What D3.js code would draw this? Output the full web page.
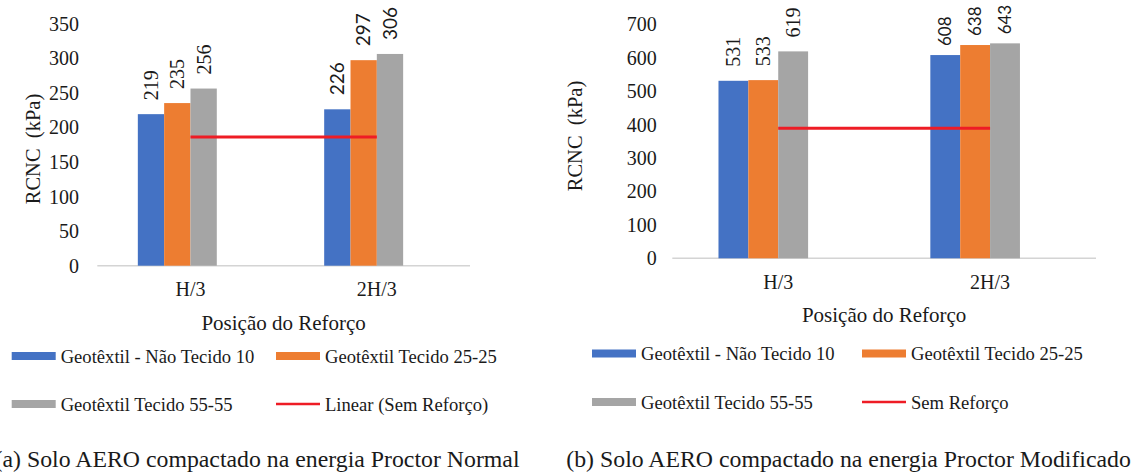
<!DOCTYPE html>
<html>
<head>
<meta charset="utf-8">
<script src="https://cdn.jsdelivr.net/npm/d3@7"></script>
<style>
  html, body { margin: 0; padding: 0; background: #fff; }
  svg { display: block; }
  text { font-family: "Liberation Serif", Tinos, "Times New Roman", "Noto Serif", "DejaVu Serif", serif; fill: #1a1a1a; }
</style>
</head>
<body>
<svg id="chart" width="1138" height="473"></svg>
<script>
// ---------- DATA ----------
const categories = ["H/3", "2H/3"];
const seriesNames = ["Geotêxtil - Não Tecido 10", "Geotêxtil Tecido 25-25", "Geotêxtil Tecido 55-55"];

// (a) Proctor Normal
const normalNaoTecido10 = [219, 226];
const normalTecido2525  = [235, 297];
const normalTecido5555  = [256, 306];
const normalSemReforco  = [186, 186];
const normalTicks = [0, 50, 100, 150, 200, 250, 300, 350];
const normalLineLabel = "Linear (Sem Reforço)";
const normalCaption = "(a) Solo AERO compactado na energia Proctor Normal";

// (b) Proctor Modificado
const modNaoTecido10 = [531, 608];
const modTecido2525  = [533, 638];
const modTecido5555  = [619, 643];
const modSemReforco  = [389, 389];
const modTicks = [0, 100, 200, 300, 400, 500, 600, 700];
const modLineLabel = "Sem Reforço";
const modCaption = "(b) Solo AERO compactado na energia Proctor Modificado";

const yTitle = "RCNC  (kPa)";
const xTitle = "Posição do Reforço";

// ---------- STYLE ----------
const colors = ["#4472C4", "#ED7D31", "#A5A5A5"];
const lineColor = "#EE1C25";
const serif = '"Liberation Serif", Tinos, "Times New Roman", "Noto Serif", "DejaVu Serif", serif';
const sans = 'Lato, "Open Sans", sans-serif';

const svg = d3.select("#chart");

function drawPanel(cfg) {
  const g = svg.append("g");
  const series = cfg.series;
  const maxV = cfg.ticks[cfg.ticks.length - 1];

  const x = d3.scaleBand().domain(categories)
    .range([cfg.x0, cfg.x1]).paddingInner(cfg.pad).paddingOuter(cfg.pad / 2);
  const slots = seriesNames.concat(["__line"]);
  const xs = d3.scaleBand().domain(slots).range([0, x.bandwidth()]);
  const y = d3.scaleLinear().domain([0, maxV]).range([cfg.yBase, cfg.yTop]);

  g.append("line")
    .attr("x1", cfg.x0).attr("x2", cfg.x1)
    .attr("y1", y(0)).attr("y2", y(0))
    .attr("stroke", "#d4d4d4").attr("stroke-width", 1.5);

  g.selectAll(".ytick").data(cfg.ticks).enter().append("text")
    .attr("x", cfg.tickRight).attr("y", d => y(d))
    .attr("text-anchor", "end").attr("dominant-baseline", "central")
    .style("font-size", "20px").text(d => d);

  g.append("text")
    .attr("transform", `translate(${cfg.yTitleX},${cfg.yTitleY}) rotate(-90)`)
    .attr("text-anchor", "middle").attr("dominant-baseline", "central")
    .style("font-size", "20.5px").style("white-space", "pre").text(yTitle);

  series.forEach((vals, si) => {
    g.selectAll(".bar" + si).data(categories).enter().append("rect")
      .attr("x", c => x(c) + xs(seriesNames[si]))
      .attr("width", xs.bandwidth())
      .attr("y", (c, ci) => y(vals[ci]))
      .attr("height", (c, ci) => y(0) - y(vals[ci]))
      .attr("fill", colors[si]);
  });

  series.forEach((vals, si) => {
    g.selectAll(".lab" + si).data(categories).enter().append("text")
      .attr("transform", (c, ci) =>
        `translate(${x(c) + xs(seriesNames[si]) + xs.bandwidth() / 2},${y(vals[ci]) - cfg.labelGap[ci]}) rotate(-90)`)
      .attr("dy", "0.35em")
      .attr("text-anchor", "start")
      .style("font-family", (c, ci) => ci === 0 ? serif : sans)
      .style("font-size", (c, ci) => ci === 0 ? "20px" : cfg.sansSize)
      .text((c, ci) => vals[ci]);
  });

  const line = d3.line()
    .x((d, i) => x(categories[i]) + x.bandwidth() / 2)
    .y(d => y(d));
  g.append("path").datum(cfg.lineVals)
    .attr("d", line).attr("fill", "none")
    .attr("stroke", lineColor).attr("stroke-width", 3);

  g.selectAll(".cat").data(categories).enter().append("text")
    .attr("x", c => x(c) + x.bandwidth() / 2)
    .attr("y", cfg.catY)
    .attr("text-anchor", "middle").attr("dominant-baseline", "central")
    .style("font-size", "20px").text(c => c);

  g.append("text")
    .attr("x", (cfg.x0 + cfg.x1) / 2).attr("y", cfg.xTitleY)
    .attr("text-anchor", "middle").attr("dominant-baseline", "central")
    .style("font-size", "21px").text(xTitle);

  const legendItems = [
    { label: seriesNames[0], color: colors[0], type: "rect", col: 0, row: 0 },
    { label: seriesNames[1], color: colors[1], type: "rect", col: 1, row: 0 },
    { label: seriesNames[2], color: colors[2], type: "rect", col: 0, row: 1 },
    { label: cfg.lineLabel, color: lineColor, type: "line", col: 1, row: 1 }
  ];
  const sw = 44;
  legendItems.forEach(it => {
    const lx = cfg.legCols[it.col];
    const ly = cfg.legRows[it.row];
    if (it.type === "rect") {
      g.append("rect").attr("x", lx).attr("y", ly - 4).attr("width", sw).attr("height", 8)
        .attr("fill", it.color);
    } else {
      g.append("line").attr("x1", lx).attr("x2", lx + sw).attr("y1", ly).attr("y2", ly)
        .attr("stroke", it.color).attr("stroke-width", 2.5);
    }
    g.append("text").attr("x", lx + sw + 5).attr("y", ly)
      .attr("dominant-baseline", "central")
      .style("font-size", "18.6px").text(it.label);
  });

  g.append("text")
    .attr("x", cfg.capX).attr("y", cfg.capY)
    .attr("text-anchor", cfg.capAnchor).attr("dominant-baseline", "central")
    .style("font-size", "23.8px").text(cfg.caption);
}

drawPanel({
  series: [normalNaoTecido10, normalTecido2525, normalTecido5555],
  lineVals: normalSemReforco, lineLabel: normalLineLabel, caption: normalCaption,
  ticks: normalTicks,
  x0: 97.3, x1: 470, pad: 0.435,
  yBase: 265.7, yTop: 23.5,
  tickRight: 79, yTitleX: 33, yTitleY: 149,
  labelGap: [14, 14], sansSize: "19px",
  catY: 289, xTitleY: 322.5,
  legCols: [11.7, 276], legRows: [356, 404],
  capX: 519.5, capY: 459, capAnchor: "end"
});

drawPanel({
  series: [modNaoTecido10, modTecido2525, modTecido5555],
  lineVals: modSemReforco, lineLabel: modLineLabel, caption: modCaption,
  ticks: modTicks,
  x0: 672.3, x1: 1096, pad: 0.436,
  yBase: 258.3, yTop: 24.3,
  tickRight: 656.7, yTitleX: 575, yTitleY: 136,
  labelGap: [14, 9], sansSize: "17px",
  catY: 282, xTitleY: 315,
  legCols: [592, 862], legRows: [353.5, 402],
  capX: 566.3, capY: 459, capAnchor: "start"
});
</script>
</body>
</html>
